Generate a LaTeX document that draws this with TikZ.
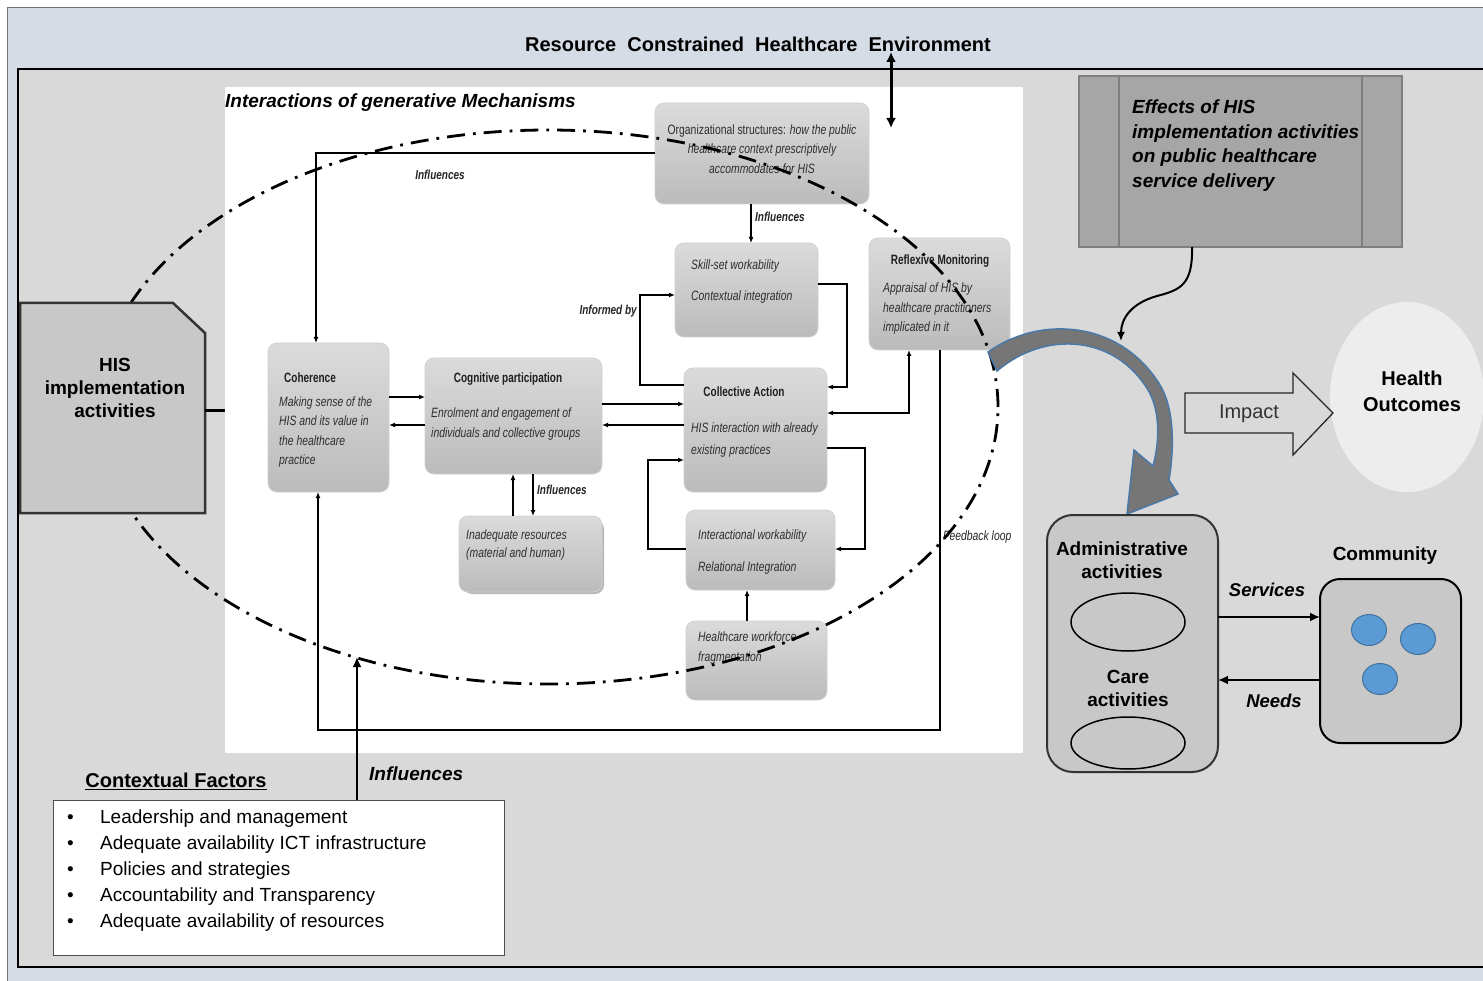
\documentclass[tikz,border=0pt]{standalone}
\usepackage{fontspec}
\setmainfont{Liberation Sans}
\newfontfamily\narrowfont[FakeStretch=0.77]{Liberation Sans}
\newfontfamily\condfont[FakeStretch=0.74]{Liberation Sans}
\usetikzlibrary{arrows.meta,calc,shapes.geometric}
\definecolor{envblue}{HTML}{D6DCE5}
\definecolor{ctxgray}{HTML}{D9D9D9}
\definecolor{boxtop}{HTML}{DBDBDB}
\definecolor{boxbot}{HTML}{BBBBBB}
\definecolor{hisgray}{HTML}{C8C8C8}
\definecolor{effgray}{HTML}{A6A6A6}
\definecolor{effline}{HTML}{7F7F7F}
\definecolor{outcome}{HTML}{EDEDED}
\definecolor{dotblue}{HTML}{5B9BD5}
\definecolor{dotedge}{HTML}{41719C}
\definecolor{bandgray}{HTML}{767676}
\definecolor{bandedge}{HTML}{4A78A8}

\tikzset{
  mech/.style={rounded corners=9pt, top color=boxtop, bottom color=boxbot,
    draw=black!18, line width=0.8pt, inner sep=0pt, outer sep=0pt},
  mtext/.style={font=\narrowfont\itshape\fontsize{13.5}{19.5}\selectfont,
    text=black!82, inner sep=0pt, align=left, anchor=west},
  mtitle/.style={font=\condfont\bfseries\fontsize{13.5}{16}\selectfont,
    text=black!88, inner sep=0pt},
  mlabel/.style={font=\narrowfont\bfseries\itshape\fontsize{13}{15}\selectfont,
    text=black!85, inner sep=0pt},
  bigtext/.style={font=\bfseries\fontsize{19}{23}\selectfont, inner sep=0pt, align=center},
  arr/.style={line width=1.3pt, -{Latex[length=6pt,width=5pt]}},
  thickarr/.style={line width=2.6pt, -{Latex[length=10pt,width=9pt]}},
  loopline/.style={line width=2.8pt, dash pattern=on 18pt off 8pt on 2.8pt off 8pt},
  greybox/.style={rounded corners=24pt, fill=hisgray, draw=black!80, line width=2pt,
    inner sep=0pt, outer sep=0pt},
}

\begin{document}
\begin{tikzpicture}[x=1pt,y=-1pt]
\useasboundingbox (0,0) rectangle (1483,981);
\clip (0,0) rectangle (1483,981);

% environment and context frames
\fill[white] (0,0) rectangle (1483,981);
\draw[fill=envblue, draw=black!55, line width=1pt] (7,8) rectangle (1500,995);
\node[font=\bfseries\fontsize{20}{24}\selectfont, inner sep=0pt] (envtitle) at (758,44)
  {Resource\ \ Constrained\ \ Healthcare\ \ Environment};
\draw[fill=ctxgray, draw=black, line width=2pt] (18,69) rectangle (1500,967);

% white panel of the generative mechanisms
\node[fill=white, minimum width=798pt, minimum height=666pt, inner sep=0pt, outer sep=0pt]
  (panel) at (624,420) {};
\node[font=\bfseries\itshape\fontsize{19}{23}\selectfont, inner sep=0pt, anchor=west]
  (paneltitle) at (225,103) {Interactions of generative Mechanisms};

% link between environment and panel
\coordinate (envtop) at (891,52);
\coordinate (envbot) at (891,128);
\draw[line width=3pt, {Latex[length=10pt,width=10pt]}-{Latex[length=10pt,width=10pt]}] (envtop) -- (envbot);

% mechanism boxes
\node[mech, minimum width=214pt, minimum height=101pt] (org) at (762,153.5) {};
\node[mech, minimum width=143pt, minimum height=94pt] (skill) at (746.5,290) {};
\node[mech, minimum width=141pt, minimum height=112pt] (refl) at (939.5,294) {};
\node[mech, minimum width=121pt, minimum height=149pt] (coh) at (328.5,417.5) {};
\node[mech, minimum width=177pt, minimum height=116pt] (cog) at (513.5,416) {};
\node[mech, minimum width=143pt, minimum height=124pt] (col) at (755.5,430) {};
\node[mech, minimum width=149pt, minimum height=80pt] (inter) at (760.5,550) {};
\node[mech, minimum width=141pt, minimum height=79pt] (work) at (756.5,660.5) {};
\fill[black!28, rounded corners=9pt] (463,520) rectangle (604,594);
\node[mech, minimum width=143pt, minimum height=76pt] (inad) at (530.5,554) {};

% box texts
\node[mtext, align=center, anchor=center] (orgtext) at (762,149)
  {\upshape Organizational structures: \itshape how the public\\healthcare context prescriptively\\accommodates for HIS};
\node[mtext] (skill1) at (691,266) {Skill-set workability};
\node[mtext] (skill2) at (691,297) {Contextual integration};
\node[mtitle] (refltitle) at (940,261) {Reflexive Monitoring};
\node[mtext] (refltext) at (883,309) {Appraisal of HIS by\\healthcare practitioners\\implicated in it};
\node[mtitle, anchor=west] (cohtitle) at (284,378) {Coherence};
\node[mtext] (cohtext) at (279,432) {Making sense of the\\HIS and its value in\\the healthcare\\practice};
\node[mtitle] (cogtitle) at (508,379) {Cognitive participation};
\node[mtext] (cogtext) at (431,424) {Enrolment and engagement of\\individuals and collective groups};
\node[mtitle] (coltitle) at (744,392) {Collective Action};
\node[mtext, font=\narrowfont\itshape\fontsize{13.5}{22}\selectfont] (coltext) at (691,440)
  {HIS interaction with already\\existing practices};
\node[mtext] (inter1) at (698,536) {Interactional workability};
\node[mtext] (inter2) at (698,568) {Relational Integration};
\node[mtext] (worktext) at (698,648) {Healthcare workforce\\fragmentation};
\node[mtext, font=\narrowfont\itshape\fontsize{13.5}{18}\selectfont] (inadtext) at (466,545)
  {Inadequate resources\\(material and human)};

% connectors between mechanisms
\draw[arr] (org.west |- 0,153) -| (coh.north -| 316,0);
\node[mlabel] (lblinf1) at (440,175) {Influences};
\draw[arr] (org.south -| 751,0) -- (skill.north -| 751,0);
\node[mlabel, anchor=west] (lblinf2) at (755,217) {Influences};
\draw[arr] (coh.east |- 0,397) -- (cog.west |- 0,397);
\draw[arr] (cog.west |- 0,425) -- (coh.east |- 0,425);
\draw[arr] (cog.east |- 0,404) -- (col.west |- 0,404);
\draw[arr] (col.west |- 0,425) -- (cog.east |- 0,425);
\draw[arr] (col.west |- 0,385) -| (640,295) -- (skill.west |- 0,295);
\node[mlabel, anchor=east] (lblinformed) at (637,311) {Informed by};
\draw[arr] (skill.east |- 0,284) -| (847,387) -- (col.east |- 0,387);
\draw[line width=1.3pt, {Latex[length=6pt,width=5pt]}-{Latex[length=6pt,width=5pt]}]
  (col.east |- 0,413) -| (refl.south -| 909,0);
\draw[arr] (col.east |- 0,448) -| (865,549) -- (inter.east |- 0,549);
\draw[arr] (inter.west |- 0,549) -| (648,460) -- (col.west |- 0,460);
\draw[arr] (work.north -| 747,0) -- (inter.south -| 747,0);
\draw[arr] (inad.north -| 513,0) -- (cog.south -| 513,0);
\draw[arr] (cog.south -| 533,0) -- (inad.north -| 533,0);
\node[mlabel, anchor=west] (lblinf3) at (537,490) {Influences};
\draw[arr] (refl.south -| 940,0) |- (318,730) -- (coh.south -| 318,0);
\node[mlabel, anchor=west, font=\narrowfont\itshape\fontsize{13.5}{15}\selectfont] (lblfeedback) at (943,537) {Feedback loop};

% boundary of the generative mechanisms
\node[ellipse, draw, loopline, minimum width=900pt, minimum height=554pt, inner sep=0pt] (loop) at (548,407) {};

% HIS implementation activities
\node[minimum width=185pt, minimum height=210pt, inner sep=0pt, outer sep=0pt] (his) at (112.5,408) {};
\draw[fill=hisgray, draw=black!80, line width=2.5pt]
  (his.south west) -- (his.north west) -- ($(his.north east)+(-32,0)$)
  -- ($(his.north east)+(0,30)$) -- (his.south east) -- cycle;
\node[bigtext] (histext) at (115,388) {HIS\\implementation\\activities};
\draw[line width=3pt] (his.east |- 0,410) -- (panel.west |- 0,410);

% contextual factors
\node[font=\bfseries\fontsize{20}{24}\selectfont, inner sep=0pt] (ctxtitle) at (176,781) {\underline{Contextual Factors}};
\node[fill=white, draw=black!70, line width=1pt, minimum width=451pt, minimum height=155pt,
  inner sep=0pt, outer sep=0pt] (ctx) at (278.5,877.5) {};
\node[font=\fontsize{19}{26}\selectfont, align=left, anchor=west, inner sep=0pt] (ctxlist) at (67,871)
  {\makebox[33pt][l]{\textbullet}Leadership and management\\
   \makebox[33pt][l]{\textbullet}Adequate availability ICT infrastructure\\
   \makebox[33pt][l]{\textbullet}Policies and strategies\\
   \makebox[33pt][l]{\textbullet}Accountability and Transparency\\
   \makebox[33pt][l]{\textbullet}Adequate availability of resources};
\coordinate (ctxtip) at (357,657);
\draw[thickarr] (ctx.north -| ctxtip) -- (ctxtip);
\node[font=\bfseries\itshape\fontsize{19}{23}\selectfont, inner sep=0pt, anchor=west] (lblinf4) at (369,774) {Influences};

% effects of HIS implementation
\node[fill=effgray, draw=effline, line width=2pt, minimum width=323pt, minimum height=171pt,
  inner sep=0pt, outer sep=0pt] (eff) at (1240.5,161.5) {};
\draw[effline, line width=1.5pt] (1119,76) -- (1119,247) (1362,76) -- (1362,247);
\node[font=\bfseries\itshape\fontsize{19}{24.6}\selectfont, align=left, anchor=west, inner sep=0pt]
  (efftext) at (1132,145.5) {Effects of HIS\\implementation activities\\on public healthcare\\service delivery};

% curved delivery arrow
\fill[bandgray, draw=bandedge, line width=1.5pt]
  (988,352) .. controls (1040,315) and (1120,320) .. (1160,385)
  .. controls (1175,410) and (1174,450) .. (1169,480)
  -- (1178,494) -- (1127,514) -- (1134,450) -- (1153,466)
  .. controls (1160,440) and (1160,410) .. (1148,390)
  .. controls (1115,335) and (1045,330) .. (997,371) -- cycle;
\coordinate (bandtop) at (1121,341);
\draw[line width=2pt, -{Latex[length=9pt,width=8pt]}] (eff.south -| 1192,0)
  .. controls (1193,285) and (1180,290) .. (1157,296)
  .. controls (1132,303) and (1121,318) .. (bandtop);

% health outcomes and impact
\node[ellipse, fill=outcome, minimum width=154pt, minimum height=190pt, inner sep=0pt] (outc) at (1407,397) {};
\node[bigtext, font=\bfseries\fontsize{20}{26}\selectfont] (outctext) at (1412,391) {Health\\Outcomes};
\draw[fill=ctxgray, draw=black!85, line width=1.3pt]
  (1185,393) -- (1293,393) -- (1293,373) -- (1333,413) -- (1293,455) -- (1293,433) -- (1185,433) -- cycle;
\node[font=\fontsize{20}{24}\selectfont, inner sep=0pt, text=black!80] (impact) at (1249,414) {Impact};

% service units and community
\node[greybox, rounded corners=26pt, minimum width=171pt, minimum height=257pt] (admin) at (1132.5,643.5) {};
\node[bigtext] (admintext) at (1122,560) {Administrative\\activities};
\node[ellipse, draw=black, fill=hisgray, line width=1.5pt, minimum width=114pt, minimum height=58pt, inner sep=0pt] (adminunit) at (1128,622) {};
\node[bigtext] (caretext) at (1128,688) {Care\\activities};
\node[ellipse, draw=black, fill=hisgray, line width=1.5pt, minimum width=114pt, minimum height=52pt, inner sep=0pt] (careunit) at (1128,743) {};
\node[greybox, rounded corners=20pt, draw=black, minimum width=141pt, minimum height=164pt] (comm) at (1390.5,661) {};
\node[bigtext] (commtext) at (1385,556) {Community};
\foreach \cx/\cy/\nm in {1369/630/p1, 1418/639/p2, 1380/679/p3}
  \node[ellipse, fill=dotblue, draw=dotedge, line width=1pt, minimum width=35pt, minimum height=31pt, inner sep=0pt] (\nm) at (\cx,\cy) {};
\draw[thickarr] (admin.east |- 0,617) -- (comm.west |- 0,617);
\draw[thickarr] (comm.west |- 0,680) -- (admin.east |- 0,680);
\node[font=\bfseries\itshape\fontsize{18.5}{22}\selectfont, inner sep=0pt] (lblserv) at (1267,590) {Services};
\node[font=\bfseries\itshape\fontsize{18.5}{22}\selectfont, inner sep=0pt] (lblneeds) at (1274,701) {Needs};
\end{tikzpicture}
\end{document}
